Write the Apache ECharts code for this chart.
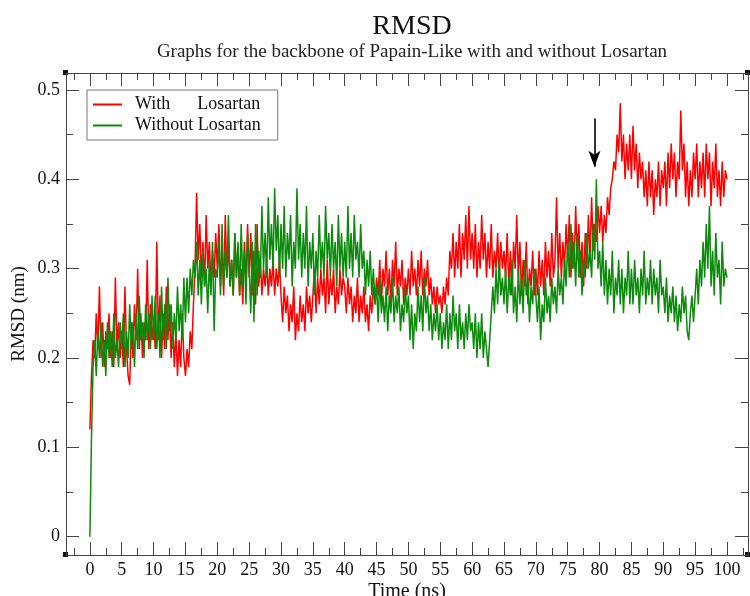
<!DOCTYPE html>
<html>
<head>
<meta charset="utf-8">
<script src="https://cdn.jsdelivr.net/npm/echarts@6/dist/echarts.min.js"></script>
<style>
html,body{margin:0;padding:0;background:#fff;}
#chart{width:750px;height:596px;}
</style>
</head>
<body>
<div id="chart"></div>
<script>
// ---- data (RMSD in nm, sampled every 0.25 ns from 0 to 100 ns) ----
const TIME_STEP = 0.25;
const seriesNames = ['With      Losartan', 'Without Losartan'];
const xMajorTicks = [0,5,10,15,20,25,30,35,40,45,50,55,60,65,70,75,80,85,90,95,100];
const xMinorTicks = [-2.5,2.5,7.5,12.5,17.5,22.5,27.5,32.5,37.5,42.5,47.5,52.5,57.5,62.5,67.5,72.5,77.5,82.5,87.5,92.5,97.5,102.5];
const yMajorTicks = [0,0.1,0.2,0.3,0.4,0.5];
const yMinorTicks = [0.05,0.15,0.25,0.35,0.45];
const arrowMark = [79.2, 0.468, 0.414];

const withLosartan = [
0.12,0.18,0.22,0.20,0.25,0.21,0.28,0.20,0.24,0.19,0.23,0.21,0.25,0.20,0.23,0.19,0.29,0.21,0.24,0.20,
0.23,0.19,0.28,0.21,0.18,0.17,0.24,0.20,0.26,0.22,0.30,0.21,0.25,0.20,0.24,0.22,0.31,0.21,0.26,0.22,
0.24,0.21,0.33,0.22,0.27,0.20,0.25,0.21,0.28,0.22,0.26,0.20,0.24,0.19,0.23,0.18,0.22,0.19,0.25,0.20,
0.18,0.21,0.19,0.23,0.21,0.26,0.30,0.385,0.31,0.35,0.29,0.33,0.28,0.36,0.30,0.33,0.28,0.32,0.29,0.34,
0.30,0.35,0.28,0.32,0.27,0.36,0.29,0.33,0.28,0.31,0.27,0.34,0.29,0.32,0.27,0.30,0.26,0.33,0.28,0.35,
0.29,0.34,0.27,0.32,0.26,0.35,0.28,0.31,0.27,0.30,0.28,0.31,0.27,0.30,0.28,0.31,0.27,0.30,0.28,0.31,
0.27,0.24,0.28,0.25,0.27,0.23,0.26,0.24,0.28,0.22,0.25,0.23,0.27,0.24,0.26,0.23,0.28,0.25,0.27,0.24,
0.27,0.30,0.25,0.29,0.26,0.30,0.27,0.29,0.25,0.31,0.26,0.29,0.27,0.30,0.25,0.28,0.26,0.30,0.27,0.29,
0.28,0.25,0.29,0.26,0.28,0.24,0.27,0.25,0.29,0.24,0.27,0.25,0.28,0.24,0.26,0.23,0.27,0.25,0.28,0.26,
0.29,0.27,0.31,0.26,0.30,0.28,0.32,0.27,0.30,0.26,0.31,0.28,0.33,0.27,0.30,0.28,0.31,0.26,0.29,0.27,
0.30,0.27,0.32,0.28,0.30,0.27,0.31,0.28,0.32,0.27,0.30,0.28,0.31,0.27,0.29,0.26,0.28,0.25,0.28,0.26,
0.27,0.25,0.28,0.26,0.29,0.27,0.32,0.30,0.34,0.29,0.33,0.30,0.35,0.29,0.34,0.31,0.36,0.30,0.37,0.31,
0.34,0.30,0.35,0.29,0.33,0.30,0.36,0.31,0.34,0.29,0.33,0.30,0.35,0.29,0.32,0.30,0.34,0.29,0.33,0.30,
0.32,0.29,0.34,0.28,0.32,0.27,0.33,0.30,0.36,0.29,0.33,0.27,0.31,0.28,0.33,0.26,0.30,0.28,0.32,0.27,
0.30,0.27,0.32,0.28,0.31,0.27,0.33,0.29,0.32,0.28,0.34,0.29,0.31,0.38,0.30,0.34,0.29,0.33,0.30,0.35,
0.31,0.36,0.29,0.34,0.30,0.37,0.31,0.35,0.29,0.33,0.28,0.34,0.30,0.36,0.31,0.38,0.32,0.35,0.33,0.37,
0.34,0.37,0.33,0.36,0.34,0.38,0.36,0.39,0.40,0.42,0.41,0.45,0.43,0.485,0.42,0.45,0.40,0.44,0.41,0.45,
0.40,0.46,0.41,0.44,0.39,0.43,0.40,0.42,0.38,0.41,0.37,0.42,0.38,0.41,0.36,0.40,0.38,0.42,0.37,0.41,
0.39,0.42,0.37,0.43,0.39,0.44,0.40,0.43,0.38,0.42,0.40,0.477,0.41,0.44,0.38,0.42,0.37,0.41,0.38,0.43,
0.40,0.44,0.38,0.42,0.39,0.43,0.38,0.44,0.40,0.43,0.37,0.42,0.39,0.44,0.38,0.41,0.37,0.42,0.38,0.41,
0.40
];

const withoutLosartan = [
0.00,0.11,0.19,0.22,0.18,0.23,0.20,0.24,0.19,0.22,0.18,0.24,0.20,0.23,0.19,0.25,0.20,0.22,0.19,0.24,
0.21,0.25,0.19,0.23,0.20,0.26,0.21,0.24,0.19,0.25,0.21,0.27,0.22,0.24,0.20,0.26,0.22,0.25,0.21,0.27,
0.22,0.27,0.21,0.25,0.20,0.28,0.22,0.26,0.21,0.29,0.23,0.26,0.21,0.25,0.22,0.28,0.23,0.26,0.22,0.29,
0.24,0.29,0.25,0.30,0.27,0.31,0.29,0.33,0.27,0.31,0.26,0.32,0.28,0.30,0.25,0.31,0.27,0.33,0.23,0.30,
0.29,0.33,0.27,0.35,0.28,0.32,0.29,0.36,0.28,0.31,0.27,0.34,0.29,0.33,0.27,0.35,0.28,0.32,0.26,0.34,
0.30,0.25,0.33,0.24,0.35,0.27,0.32,0.29,0.37,0.30,0.34,0.29,0.38,0.31,0.35,0.30,0.39,0.32,0.36,0.29,
0.35,0.30,0.37,0.29,0.34,0.31,0.36,0.28,0.33,0.30,0.39,0.31,0.35,0.29,0.34,0.30,0.37,0.28,0.33,0.30,
0.34,0.27,0.32,0.29,0.36,0.30,0.33,0.29,0.37,0.31,0.34,0.29,0.35,0.30,0.33,0.28,0.36,0.30,0.34,0.29,
0.33,0.29,0.37,0.30,0.34,0.29,0.36,0.31,0.33,0.29,0.35,0.30,0.32,0.27,0.31,0.28,0.32,0.27,0.30,0.26,
0.28,0.24,0.29,0.25,0.27,0.24,0.28,0.23,0.27,0.25,0.29,0.24,0.27,0.25,0.28,0.23,0.26,0.24,0.28,0.25,
0.27,0.22,0.26,0.21,0.25,0.23,0.28,0.24,0.27,0.23,0.29,0.25,0.27,0.23,0.26,0.22,0.25,0.23,0.26,0.22,
0.25,0.21,0.24,0.22,0.26,0.21,0.25,0.22,0.27,0.23,0.25,0.21,0.26,0.22,0.24,0.21,0.25,0.22,0.26,0.23,
0.24,0.21,0.25,0.20,0.24,0.21,0.25,0.20,0.23,0.21,0.19,0.22,0.25,0.28,0.25,0.30,0.26,0.31,0.27,0.29,
0.26,0.30,0.25,0.29,0.27,0.31,0.25,0.28,0.24,0.30,0.26,0.29,0.25,0.31,0.27,0.29,0.24,0.28,0.26,0.30,
0.27,0.24,0.28,0.22,0.26,0.24,0.29,0.25,0.27,0.24,0.29,0.26,0.28,0.25,0.30,0.27,0.29,0.26,0.31,0.28,
0.33,0.29,0.35,0.30,0.33,0.28,0.34,0.29,0.32,0.27,0.31,0.29,0.34,0.30,0.32,0.29,0.35,0.31,0.40,0.30,
0.32,0.28,0.33,0.27,0.31,0.26,0.30,0.27,0.32,0.25,0.29,0.27,0.31,0.26,0.30,0.25,0.29,0.27,0.32,0.26,
0.30,0.26,0.31,0.27,0.29,0.25,0.30,0.27,0.32,0.26,0.29,0.27,0.31,0.26,0.30,0.27,0.29,0.25,0.31,0.27,
0.28,0.25,0.29,0.24,0.27,0.25,0.28,0.24,0.27,0.23,0.26,0.24,0.28,0.25,0.27,0.23,0.22,0.25,0.27,0.24,
0.27,0.30,0.26,0.31,0.28,0.33,0.29,0.35,0.30,0.37,0.28,0.32,0.27,0.34,0.29,0.31,0.26,0.33,0.28,0.30,
0.29
];

// ---- build chart ----
const toPairs = arr => arr.map((v, i) => [i * TIME_STEP, v]);
const FONT = '"Liberation Serif", "DejaVu Serif", serif';
const AXIS_COLOR = '#444';
const X_MIN = -3.75, X_MAX = 103.3, Y_MIN = -0.0205, Y_MAX = 0.519;

function xAx(position, ticks, len, withLine, withLabels) {
  return {
    type: 'value', position: position, min: X_MIN, max: X_MAX,
    axisLine: { show: withLine, onZero: false, lineStyle: { color: AXIS_COLOR, width: 1 } },
    axisTick: { show: true, inside: true, length: len, customValues: ticks, lineStyle: { color: AXIS_COLOR, width: 1 } },
    axisLabel: withLabels ? { show: true, customValues: ticks, margin: 6, fontFamily: FONT, fontSize: 18, color: '#111' } : { show: false },
    splitLine: { show: false }
  };
}
function yAx(position, ticks, len, withLine, withLabels) {
  return {
    type: 'value', position: position, min: Y_MIN, max: Y_MAX,
    axisLine: { show: withLine, onZero: false, lineStyle: { color: AXIS_COLOR, width: 1 } },
    axisTick: { show: true, inside: true, length: len, customValues: ticks, lineStyle: { color: AXIS_COLOR, width: 1 } },
    axisLabel: withLabels ? { show: true, customValues: ticks, margin: 6, fontFamily: FONT, fontSize: 18, color: '#111',
      formatter: v => String(Math.round(v * 10) / 10) } : { show: false },
    splitLine: { show: false }
  };
}

const xAxes = [
  Object.assign(xAx('bottom', xMajorTicks, 13, true, true), {
    name: 'Time (ns)', nameLocation: 'middle', nameGap: 27, nameMoveOverlap: false,
    nameTextStyle: { fontFamily: FONT, fontSize: 20, color: '#111' }
  }),
  xAx('bottom', xMinorTicks, 7, false, false),
  xAx('top', xMajorTicks, 13, true, false),
  xAx('top', xMinorTicks, 7, false, false)
];
const yAxes = [
  Object.assign(yAx('left', yMajorTicks, 13, true, true), {
    name: 'RMSD (nm)', nameLocation: 'middle', nameGap: 37, nameMoveOverlap: false,
    nameTextStyle: { fontFamily: FONT, fontSize: 19, color: '#111' }
  }),
  yAx('left', yMinorTicks, 7, false, false),
  yAx('right', yMajorTicks, 13, true, false),
  yAx('right', yMinorTicks, 7, false, false)
];

const chart = echarts.init(document.getElementById('chart'), null, { renderer: 'canvas' });
chart.setOption({
  animation: false,
  backgroundColor: '#fff',
  title: {
    text: 'RMSD',
    subtext: 'Graphs for the backbone of Papain-Like with and without Losartan',
    left: 407, top: 8, textAlign: 'center', itemGap: 2,
    textStyle: { fontFamily: FONT, fontSize: 28, fontWeight: 'normal', color: '#111' },
    subtextStyle: { fontFamily: FONT, fontSize: 19, color: '#222' }
  },
  legend: {
    left: 87, top: 90, orient: 'vertical',
    padding: [5, 17, 5, 6], itemGap: 2,
    itemWidth: 29, itemHeight: 2, icon: 'rect',
    backgroundColor: '#fff', borderColor: '#777', borderWidth: 1, borderRadius: 0,
    textStyle: { fontFamily: FONT, fontSize: 18, color: '#111', lineHeight: 19, padding: [0, 0, 0, 8] },
    data: seriesNames
  },
  grid: { left: 66, right: 2, top: 73, bottom: 41, containLabel: false, outerBoundsMode: 'none' },
  xAxis: xAxes,
  yAxis: yAxes,
  graphic: [
    { type: 'rect', shape: { x: 63, y: 70, width: 5, height: 5 }, style: { fill: '#111' } },
    { type: 'rect', shape: { x: 63, y: 552, width: 5, height: 5 }, style: { fill: '#111' } },
    { type: 'rect', shape: { x: 745, y: 70, width: 5, height: 5 }, style: { fill: '#111' } },
    { type: 'rect', shape: { x: 745, y: 552, width: 5, height: 5 }, style: { fill: '#111' } }
  ],
  series: [
    {
      name: seriesNames[0], type: 'line', xAxisIndex: 0, yAxisIndex: 0,
      data: toPairs(withLosartan), symbol: 'none', smooth: false,
      lineStyle: { color: '#ff0000', width: 1.5 }, itemStyle: { color: '#ff0000' },
      markLine: {
        silent: true, symbol: ['none', 'arrow'], symbolSize: [9, 16],
        label: { show: false },
        lineStyle: { color: '#000', width: 1.6, type: 'solid' },
        data: [[{ coord: [arrowMark[0], arrowMark[1]] }, { coord: [arrowMark[0], arrowMark[2]] }]]
      }
    },
    {
      name: seriesNames[1], type: 'line', xAxisIndex: 0, yAxisIndex: 0,
      data: toPairs(withoutLosartan), symbol: 'none', smooth: false,
      lineStyle: { color: '#0b8a0b', width: 1.5 }, itemStyle: { color: '#0b8a0b' }
    }
  ]
});
</script>
</body>
</html>
